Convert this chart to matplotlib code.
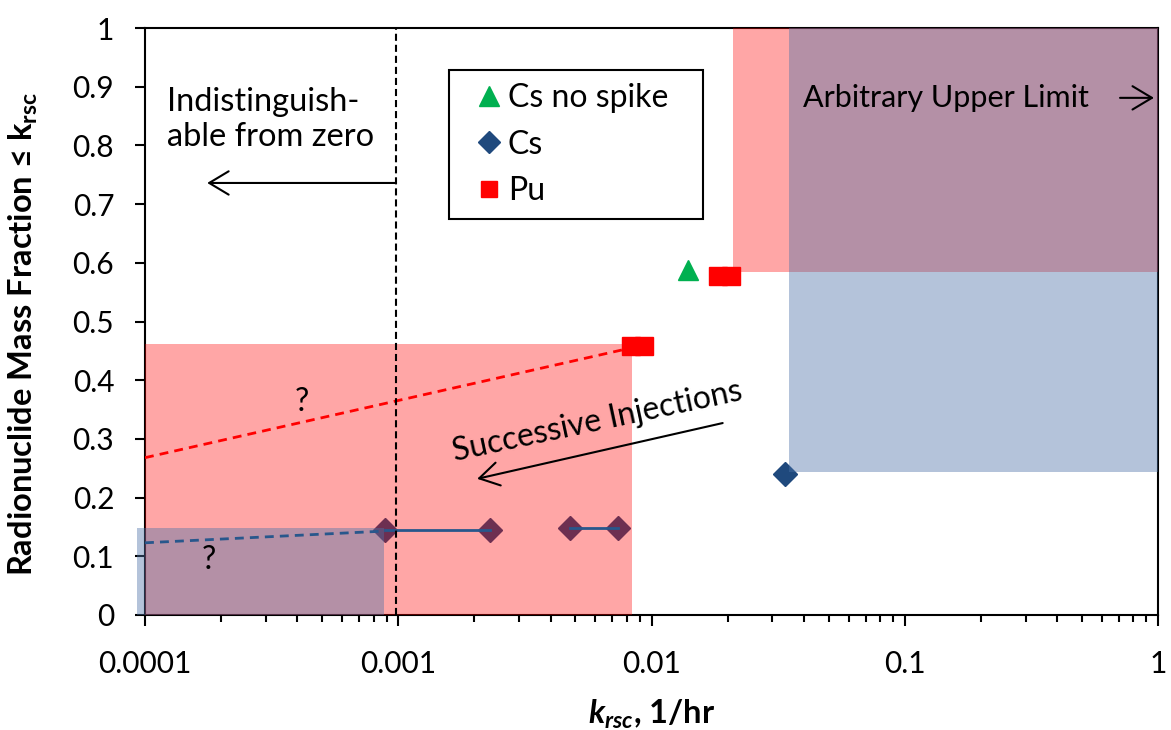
import matplotlib
matplotlib.use("Agg")
import matplotlib.pyplot as plt
from matplotlib.lines import Line2D
from matplotlib.ticker import LogLocator, NullFormatter

plt.rcParams["font.family"] = ["Lato", "DejaVu Sans"]
plt.rcParams["mathtext.fontset"] = "custom"
plt.rcParams["mathtext.rm"] = "Lato"
plt.rcParams["mathtext.it"] = "Lato:italic"
plt.rcParams["mathtext.bf"] = "Lato:bold"
plt.rcParams["mathtext.bfit"] = "Lato:italic:bold"

# ---- axis ticks ----
x_ticks = [0.0001, 0.001, 0.01, 0.1, 1]
x_tick_labels = ["0.0001", "0.001", "0.01", "0.1", "1"]
y_ticks = [0, 0.1, 0.2, 0.3, 0.4, 0.5, 0.6, 0.7, 0.8, 0.9, 1]
y_tick_labels = ["0", "0.1", "0.2", "0.3", "0.4", "0.5", "0.6", "0.7", "0.8", "0.9", "1"]

# ---- measured points ----
cs_nospike_k = [0.0139]
cs_nospike_f = [0.588]
cs_k = [0.000887, 0.0023, 0.00476, 0.00738, 0.0337]
cs_f = [0.145, 0.145, 0.148, 0.148, 0.240]
pu_k = [0.0083, 0.0093, 0.0183, 0.0206]
pu_f = [0.458, 0.458, 0.578, 0.578]

# ---- extrapolations towards zero ----
pu_extrap_k = [0.0001, 0.0083]
pu_extrap_f = [0.268, 0.455]
cs_extrap_k = [0.0001, 0.000887]
cs_extrap_f = [0.123, 0.143]

# ---- shaded bands: (k_lo, k_hi, f_lo, f_hi) ----
pu_band_low = (0.0001, 0.00838, 0.0, 0.462)
pu_band_high = (0.021, 1.0, 0.585, 1.0)
cs_band_low = (0.000093, 0.00088, 0.0, 0.148)
cs_band_high = (0.0349, 1.0, 0.243, 1.0)

detection_limit = 0.00098

FS = 21.5      # tick labels
FS_NOTE = 23   # annotations and legend
FS_LABEL = 23.5
RED = "#FF0000"
BLUE = "#1F497D"
GREEN = "#00B050"
BAND_RED = "#FF0000"
BAND_BLUE = "#4C72A7"

fig = plt.figure(figsize=(11.71, 7.30), dpi=100)
ax = fig.add_axes([145 / 1171, 1 - 615 / 730, 1013 / 1171, 587 / 730])
ax.set_xscale("log")
ax.set_xlim(1e-4, 1)
ax.set_ylim(0, 1)

# markers (beneath the translucent bands)
ax.plot(cs_nospike_k, cs_nospike_f, ls="none", marker="^", ms=14.5,
        color=GREEN, mec=GREEN, zorder=2)
ax.plot(cs_k, cs_f, ls="none", marker="D", ms=12.5, color=BLUE, mec=BLUE, zorder=2)
ax.plot(pu_k, pu_f, ls="none", marker="s", ms=13, color=RED, mec=RED, zorder=2)

# bands
def band(b, color, alpha, z, clip=True):
    k0, k1, f0, f1 = b
    ax.fill_between([k0, k1], [f0, f0], [f1, f1], color=color, alpha=alpha,
                    lw=0, zorder=z, clip_on=clip)

band(pu_band_low, BAND_RED, 0.35, 3)
band(pu_band_high, BAND_RED, 0.35, 3)
band(cs_band_low, BAND_BLUE, 0.42, 3.1, clip=False)
band(cs_band_high, BAND_BLUE, 0.42, 3.1)

# connecting lines and extrapolations
ax.plot(cs_k[0:2], cs_f[0:2], color="#28578C", lw=2, zorder=4)
ax.plot(cs_k[2:4], cs_f[2:4], color="#28578C", lw=2, zorder=4)
ax.plot(pu_extrap_k, pu_extrap_f, color=RED, lw=2, dashes=(3.2, 2.2), zorder=4)
ax.plot(cs_extrap_k, cs_extrap_f, color="#28578C", lw=2, dashes=(3.2, 2.2), zorder=4)
ax.axvline(detection_limit, color="black", lw=1.5, dashes=(3.4, 1.9), zorder=4)

# annotations
arrow = dict(arrowstyle="->,head_length=0.5,head_width=0.3", lw=1.5,
             color="black", mutation_scale=28, shrinkA=0, shrinkB=0)
ax.text(0.000122, 0.9, "Indistinguish-\nable from zero", ha="left", va="top",
        fontsize=23.5, linespacing=1.22, zorder=6)
ax.annotate("", xy=(0.000176, 0.736), xytext=(detection_limit, 0.736),
            arrowprops=arrow, zorder=6)
ax.text(0.0396, 0.881, "Arbitrary Upper Limit", ha="left", va="center",
        fontsize=22, zorder=6)
ax.annotate("", xy=(0.964, 0.881), xytext=(0.708, 0.881), arrowprops=arrow, zorder=6)
ax.text(0.0061, 0.329, "Successive Injections", ha="center", va="center",
        rotation=12, rotation_mode="anchor", fontsize=FS_NOTE, zorder=6)
ax.annotate("", xy=(0.00205, 0.232), xytext=(0.0191, 0.327), arrowprops=arrow, zorder=6)
ax.text(0.000417, 0.363, "?", ha="center", va="center", fontsize=FS_NOTE, zorder=6)
ax.text(0.000179, 0.094, "?", ha="center", va="center", fontsize=FS_NOTE, zorder=6)

# axes styling
for s in ax.spines.values():
    s.set_linewidth(1.5)
    s.set_color("black")
ax.set_xticks(x_ticks, x_tick_labels)
ax.xaxis.set_minor_locator(LogLocator(base=10, subs=range(2, 10)))
ax.xaxis.set_minor_formatter(NullFormatter())
ax.set_yticks(y_ticks, y_tick_labels)
ax.tick_params(axis="x", which="major", direction="out", length=8, width=1.5,
               pad=17, labelsize=FS)
ax.tick_params(axis="x", which="minor", direction="out", length=5, width=1.5)
ax.tick_params(axis="y", direction="out", length=7.2, width=1.5, pad=15, labelsize=FS)

ax.set_ylabel("Radionuclide Mass Fraction \u2264 k$_{\\mathbf{rsc}}$",
              fontsize=FS_LABEL, fontweight="bold")
ax.yaxis.set_label_coords(-0.104, 0.479)
ax.set_xlabel("$\\mathbfit{k}_{\\mathbfit{rsc}}$, 1/hr", fontsize=FS_LABEL,
              fontweight="bold")
ax.xaxis.set_label_coords(0.5, -0.142)

# legend
handles = [
    Line2D([], [], ls="none", marker="^", ms=14, color=GREEN, label="Cs no spike"),
    Line2D([], [], ls="none", marker="D", ms=11, color=BLUE, label="Cs"),
    Line2D([], [], ls="none", marker="s", ms=11, color=RED, label="Pu"),
]
leg = ax.legend(handles=handles, loc="upper left",
                bbox_to_anchor=(0.300, 0.928, 0.251, 0), mode="expand",
                borderaxespad=0, frameon=True, fancybox=False, framealpha=1,
                edgecolor="black", fontsize=FS_NOTE, handlelength=1.7,
                handletextpad=-0.25, borderpad=0.4, labelspacing=0.52)
leg.get_frame().set_linewidth(1.5)
leg.set_zorder(6)

fig.savefig("out.png", dpi=100)
